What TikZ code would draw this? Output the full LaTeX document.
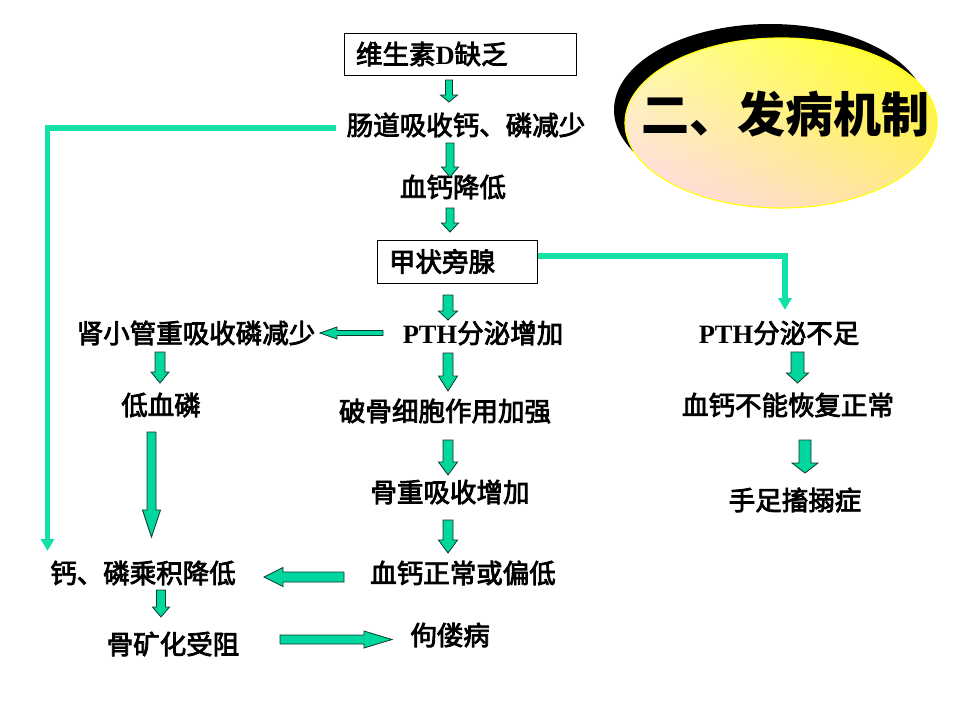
\documentclass[tikz,border=0pt]{standalone}
\usepackage{fontspec}
\newfontfamily\cjk{Noto Sans CJK SC}
\newfontfamily\cjkm[FakeBold=3]{Noto Sans CJK SC}
\newfontfamily\tnr{Liberation Serif}
\usetikzlibrary{arrows.meta,calc,shadings}
\definecolor{agreen}{HTML}{00D69E}
\definecolor{lgreen}{HTML}{14E0AA}
\definecolor{aedge}{HTML}{0A3A2A}
\definecolor{pinkish}{HTML}{FFD6F2}
\definecolor{yel}{HTML}{FFFF10}
\newcommand\darr[6]{% x, ytop, ytip, shaft half, head half, head length
  \filldraw[barrow] ({#1-#4},#2) -- ({#1+#4},#2) -- ({#1+#4},{#3-#6}) -- ({#1+#5},{#3-#6}) -- (#1,#3) -- ({#1-#5},{#3-#6}) -- ({#1-#4},{#3-#6}) -- cycle;}
\newcommand\larr[6]{% xtip, xtail, y, shaft half, head half, head length
  \filldraw[barrow] (#2,{#3-#4}) -- ({#1+#6},{#3-#4}) -- ({#1+#6},{#3-#5}) -- (#1,#3) -- ({#1+#6},{#3+#5}) -- ({#1+#6},{#3+#4}) -- (#2,{#3+#4}) -- cycle;}
\newcommand\rarr[6]{% xtail, xtip, y, shaft half, head half, head length
  \filldraw[barrow] (#1,{#3-#4}) -- ({#2-#6},{#3-#4}) -- ({#2-#6},{#3-#5}) -- (#2,#3) -- ({#2-#6},{#3+#5}) -- ({#2-#6},{#3+#4}) -- (#1,{#3+#4}) -- cycle;}
\newcommand\PTH{{\tnr\bfseries PTH}}
\begin{document}
\begin{tikzpicture}[x=1pt,y=-1pt,
  every node/.style={inner sep=0pt},
  txt/.style={font=\cjkm\fontsize{26.5}{30}\selectfont},
  box/.style={txt, draw=black, line width=1pt, fill=white, inner xsep=12pt, align=left},
  barrow/.style={fill=agreen, draw=aedge, line width=0.8pt, line join=miter},
  gline/.style={draw=lgreen, line width=5.5pt, -{Triangle[width=13pt,length=12pt]}}]
\useasboundingbox[fill=white] (0,0) rectangle (960,720);

% title ellipse
\fill[black] (770,110) ellipse [x radius=156, y radius=86];
\shade[upper right=yel, upper left=yellow!35!white, lower left=pinkish, lower right=yellow!40!pinkish] (781,123) ellipse [x radius=156, y radius=85];
\draw[yel, line width=1.2pt] (781,123) ellipse [x radius=156, y radius=85];
\node[font=\cjk\bfseries\fontsize{48}{52}\selectfont] (title) at (785,114) {二、发病机制};

% boxes
\node[box, minimum width=232pt, minimum height=42pt, text width=208pt] (vd) at (460,54) {维生素{\tnr\bfseries D}缺乏};
\node[box, minimum width=160pt, minimum height=43pt, text width=136pt] (ptg) at (457,261.5) {甲状旁腺};

% texts
\node[txt] (gut)  at (466,125) {肠道吸收钙、磷减少};
\node[txt] (ca)   at (453,187) {血钙降低};
\node[txt] (pthu) at (483,333) {\PTH 分泌增加};
\node[txt] (ren)  at (196,333) {肾小管重吸收磷减少};
\node[txt] (lowp) at (161,405) {低血磷};
\node[txt] (prod) at (143,573) {钙、磷乘积降低};
\node[txt] (mine) at (173,644) {骨矿化受阻};
\node[txt] (rick) at (450,635) {佝偻病};
\node[txt] (ost)  at (445,411) {破骨细胞作用加强};
\node[txt] (res)  at (450,492) {骨重吸收增加};
\node[txt] (cano) at (463,573) {血钙正常或偏低};
\node[txt] (pthd) at (779,333) {\PTH 分泌不足};
\node[txt] (canr) at (788,405) {血钙不能恢复正常};
\node[txt] (tet)  at (795,500) {手足搐搦症};

% green connector lines
\coordinate (lend) at (47.5,551);
\coordinate (rend) at (785,310);
\draw[gline] ([xshift=-11pt,yshift=-3pt]gut.west) -| (lend);
\draw[gline] ([yshift=5.5pt]ptg.east) -| (rend);

% block arrows
\darr{449}{80}{102}{3.5}{8.5}{7}
\darr{450}{143}{177}{4}{8.5}{10}
\darr{450}{208}{232}{4}{8.5}{9}
\darr{448}{295}{320}{5}{9.5}{9}
\darr{448}{353}{391}{5}{9.5}{15}
\darr{448}{440}{475}{5}{9.5}{13}
\darr{448}{520}{553}{5}{9.5}{13}
\larr{320}{383}{333}{2.5}{6}{17}
\darr{160}{352}{383}{5}{9}{11}
\darr{151.5}{432}{537}{4.5}{9}{27}
\darr{161}{590}{617}{4.5}{8.5}{10}
\larr{264}{344}{577}{5}{9.5}{19}
\rarr{280}{392}{639.5}{4.5}{8.5}{28}
\darr{797.5}{352}{383}{6.5}{11}{10}
\darr{805}{440}{473}{6}{13}{10}
\end{tikzpicture}
\end{document}
